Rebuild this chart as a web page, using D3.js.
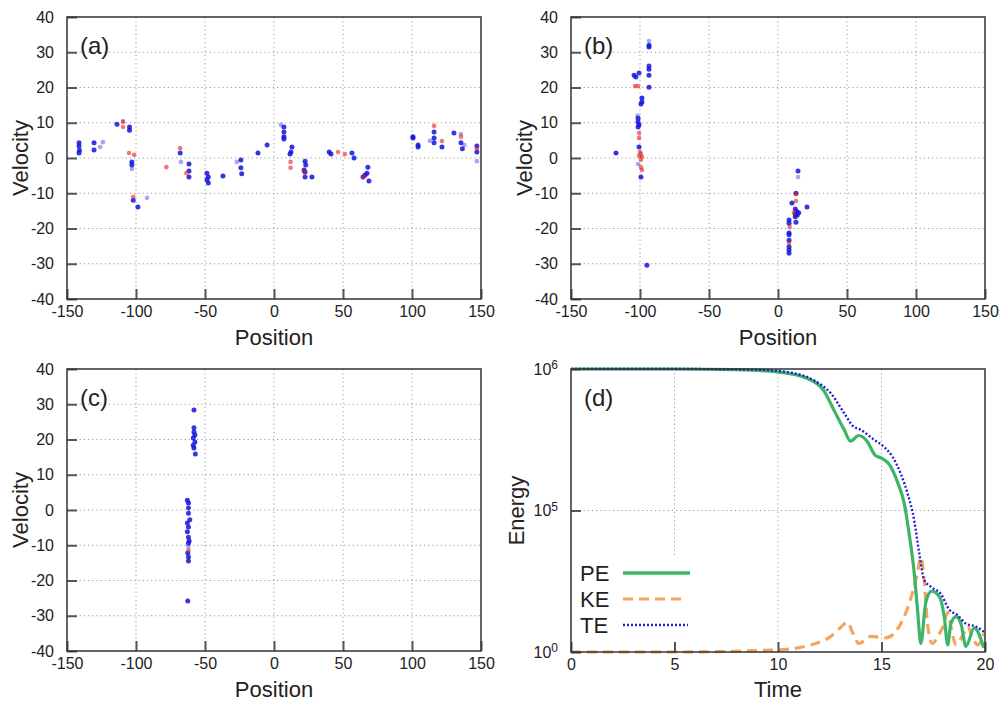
<!DOCTYPE html>
<html><head><meta charset="utf-8">
<script src="https://cdn.jsdelivr.net/npm/d3@7/dist/d3.min.js"></script>
<style>
html,body{margin:0;padding:0;background:#fff;}
text{font-family:"Liberation Sans",Arial,sans-serif;fill:#222;}
</style></head>
<body>
<svg id="chart" width="1002" height="704"></svg>
<script>
// ---------------- DATA ----------------
const posTicks = [-150,-100,-50,0,50,100,150];
const velTicks = [-40,-30,-20,-10,0,10,20,30,40];
const timeTicks = [0,5,10,15,20];
const energyTickVals = [1e4,1e5,1e6];
const energyTickExps = ["0","5","6"];

// panel (a): [position, velocity]
const aBlue = [[-141.3,4.3],[-141.3,3.4],[-141.3,1.4],[-141,2.2],[-130.4,4.3],[-130.4,2.3],[-113.8,9.6],[-104.7,8.8],[-104.7,7.9],[-103,-1.1],[-103,-2],[-102,-12],[-98.6,-13.9],[-68,1.4],[-61.6,-1.7],[-61.6,-3.7],[-61.6,-5.4],[-48.6,-4.3],[-47.6,-5.4],[-48.6,-6.2],[-47.6,-7.1],[-37,-5.1],[-24,-0.6],[-24,-2.8],[-23.4,-4.5],[-11.6,1.4],[-5,3.7],[7.2,8.8],[7.2,7.4],[7.2,6],[7.2,5.4],[13,3.1],[12.3,1.7],[11.6,1.1],[22.5,-0.9],[23,-2],[21.8,-3.4],[22.5,-4],[22.5,-5.4],[27.5,-5.4],[40,1.7],[41.3,1.1],[56.5,1.4],[58,0],[66,-4.8],[67.4,-4.3],[68,-2.6],[64.5,-5.4],[68.8,-6.5],[100.7,6],[100.7,5.7],[104.4,3.7],[104.4,3.1],[116,7.4],[116,5.7],[116,4.3],[121.7,3.1],[130.4,7.1],[135.5,4.3],[136.5,2.6],[147,3.4],[147,1.7]];
const aFaint = [[-126,3.1],[-124,4.5],[-103,-3.1],[-92,-11.3],[-67.4,-1.1],[-27,-1.1],[5,9.4],[135.5,6.8],[138,3.7],[147,-0.9],[-109.4,10.5],[113,4.9]];
const aRed = [[-109.4,10.2],[-109.4,8.8],[-105,1.4],[-101.4,0.9],[-102,-11],[-78,-2.6],[-68,2.8],[-63.5,-4.3],[12,-1.1],[12,-2.8],[21.8,-3.8],[46.4,1.7],[51.4,1.1],[65,-5.2],[116,9.1],[121.7,4.8],[135.5,6],[147,2.6]];

// panel (b)
const bBlue = [[-93.5,32],[-93.5,31.5],[-93.5,26.1],[-93.5,25.2],[-93.5,23.5],[-104.3,23.5],[-103,23],[-100.7,24.1],[-93.5,20.1],[-98.6,17],[-98.6,15.9],[-99.3,15.3],[-101.4,11.3],[-101.4,10.2],[-101.4,8.8],[-100.7,9.4],[-100.7,3.1],[-117.4,1.4],[-99.3,-5.4],[-95,-30.4],[14.5,-3.7],[13,-10],[10.1,-12.8],[12.5,-14.5],[13.5,-15.2],[12.5,-15.9],[14,-16.2],[12.5,-16.7],[15,-15.5],[21,-13.9],[13,-18.2],[8,-17.6],[8,-18.5],[8,-21.3],[8,-21.8],[8,-23.3],[8,-25.2],[8,-26.1],[8,-27]];
const bFaint = [[-93.5,33.2],[-101.4,-1.7],[14.5,-5.4],[-101.8,12]];
const bRed = [[-103.6,20.4],[-101.4,20.4],[-100.7,7.1],[-100.7,5.7],[-100,1.7],[-99.3,1.1],[-100.7,0.6],[-98.6,0.3],[-99.3,-2.6],[-98.6,-3.4],[-99.3,-0.5],[13,-10.2],[13,-12.2],[8.5,-19.6],[8,-24.1],[11.5,-15.5]];

// panel (c)
const cBlue = [[-58,28.4],[-58,23.3],[-58,22.1],[-57.3,21.3],[-58.5,20.4],[-57.3,19.3],[-58.5,18.4],[-58,17.6],[-57,15.9],[-62.8,2.8],[-62,2],[-62,0.6],[-62,-0.9],[-61,-2.8],[-62.8,-3.7],[-62,-4.8],[-62.8,-6.2],[-62,-7.7],[-61.5,-8.8],[-62,-9.4],[-62.5,-12.2],[-62,-13.3],[-62,-14.5],[-62.5,-25.8]];
const cFaint = [[-62,-10.5]];
const cRed = [[-62,-11.5]];

// panel (d): [time, log10(energy)]
const peSeries = [[0,6],[5,6],[8,5.995],[9.96,5.98],[11.4,5.934],[12.2,5.85],[12.7,5.71],[13.2,5.57],[13.5,5.49],[13.9,5.53],[14.3,5.49],[14.7,5.39],[15.0,5.37],[15.4,5.32],[15.8,5.19],[16.1,5.05],[16.33,4.84],[16.58,4.56],[16.74,4.30],[16.9,4.06],[17.14,4.35],[17.42,4.43],[17.8,4.39],[18.03,4.25],[18.2,4.05],[18.35,4.20],[18.6,4.25],[18.84,4.20],[19.08,4.04],[19.48,4.17],[19.94,4.03]];
const keSeries = [[0,4.0],[5,4.0],[9.96,4.015],[11.57,4.05],[12.54,4.11],[13.0,4.17],[13.35,4.21],[13.6,4.14],[13.91,4.06],[14.48,4.11],[15.2,4.10],[15.93,4.20],[16.4,4.37],[16.74,4.56],[16.9,4.67],[17.06,4.51],[17.22,4.20],[17.46,4.06],[17.71,4.11],[18.03,4.20],[18.19,4.28],[18.35,4.18],[18.6,4.05],[19.0,4.14],[19.16,4.18],[19.4,4.10],[19.65,4.05],[19.94,4.13]];
const teSeries = [[0,6],[5,6],[9,5.995],[10.77,5.97],[11.73,5.92],[12.54,5.83],[13.19,5.69],[13.6,5.60],[14.0,5.57],[14.64,5.50],[15.12,5.45],[15.53,5.38],[15.93,5.26],[16.26,5.12],[16.58,4.93],[16.82,4.70],[17.06,4.51],[17.39,4.46],[17.87,4.41],[18.27,4.30],[18.68,4.26],[19.08,4.20],[19.56,4.18],[19.97,4.14]];
const legendNames = ["PE","KE","TE"];

// ---------------- DRAW ----------------
const svg = d3.select("#chart");
const BLUE = "#1414dc", RED = "#e41e1e";
const GREEN = "#3cb46a", ORANGE = "#f4a45e", TEBLUE = "#2020d2";
const plainFmt = d => String(d);

function frame(box, x, y, xTickVals, yTickVals) {
  const g = svg.append("g");
  g.selectAll(".gx").data(xTickVals.filter(v => x(v) > box.x0 + 1 && x(v) < box.x1 - 1)).join("line")
    .attr("x1", d => x(d)).attr("x2", d => x(d)).attr("y1", box.y0).attr("y2", box.y1)
    .attr("stroke", "#9a9a9a").attr("stroke-width", 1).attr("stroke-dasharray", "1.2,3");
  g.selectAll(".gy").data(yTickVals.filter(v => y(v) > box.y0 + 1 && y(v) < box.y1 - 1)).join("line")
    .attr("y1", d => y(d)).attr("y2", d => y(d)).attr("x1", box.x0).attr("x2", box.x1)
    .attr("stroke", "#9a9a9a").attr("stroke-width", 1).attr("stroke-dasharray", "1.2,3");
  return g;
}

function axes(box, x, y, xTickVals, yTickVals, yFmt, xTitle, yTitle, tag, titleY, yTitleX) {
  const g = svg.append("g");
  const ax = g.append("g").attr("transform", `translate(0,${box.y1})`)
    .call(d3.axisBottom(x).tickValues(xTickVals).tickSizeInner(-10).tickSizeOuter(0).tickPadding(7).tickFormat(plainFmt));
  ax.select(".domain").remove();
  ax.selectAll("line").attr("stroke", "#555").attr("stroke-width", 2);
  ax.selectAll("text").attr("font-size", 16).attr("fill", "#222").style("font-family", "Liberation Sans, Arial, sans-serif");
  const ay = g.append("g").attr("transform", `translate(${box.x0},0)`)
    .call(d3.axisLeft(y).tickValues(yTickVals).tickSizeInner(-10).tickSizeOuter(0).tickPadding(13).tickFormat(yFmt || plainFmt));
  ay.select(".domain").remove();
  ay.selectAll("line").attr("stroke", "#555").attr("stroke-width", 2);
  ay.selectAll("text").attr("font-size", 16).attr("fill", "#222").style("font-family", "Liberation Sans, Arial, sans-serif");
  g.append("rect").attr("x", box.x0).attr("y", box.y0).attr("width", box.x1 - box.x0).attr("height", box.y1 - box.y0)
    .attr("fill", "none").attr("stroke", "#333").attr("stroke-width", 1.5);
  g.append("text").attr("x", (box.x0 + box.x1) / 2).attr("y", titleY).attr("text-anchor", "middle")
    .attr("font-size", 22).text(xTitle);
  g.append("text").attr("transform", `translate(${yTitleX},${(box.y0 + box.y1) / 2}) rotate(-90)`)
    .attr("text-anchor", "middle").attr("font-size", 22).text(yTitle);
  g.append("text").attr("x", box.x0 + 13).attr("y", box.y0 + 37).attr("font-size", 24).text(tag);
  return {ax, ay};
}

function scatterPanel(box, blue, faint, red, tag) {
  const x = d3.scaleLinear().domain([-150, 150]).range([box.x0, box.x1]);
  const y = d3.scaleLinear().domain([-40, 40]).range([box.y1, box.y0]);
  frame(box, x, y, posTicks, velTicks);
  const g = svg.append("g");
  g.selectAll(".f").data(faint).join("circle").attr("cx", d => x(d[0])).attr("cy", d => y(d[1]))
    .attr("r", 2.3).attr("fill", BLUE).attr("opacity", 0.38);
  g.selectAll(".b").data(blue).join("circle").attr("cx", d => x(d[0])).attr("cy", d => y(d[1]))
    .attr("r", 2.5).attr("fill", BLUE).attr("opacity", 0.85);
  g.selectAll(".r").data(red).join("circle").attr("cx", d => x(d[0])).attr("cy", d => y(d[1]))
    .attr("r", 2.3).attr("fill", RED).attr("opacity", 0.6);
  axes(box, x, y, posTicks, velTicks, null, "Position", "Velocity", tag, box.y1 + 46, box.x0 - 39);
}

scatterPanel({x0: 67, x1: 481, y0: 17, y1: 299}, aBlue, aFaint, aRed, "(a)");
scatterPanel({x0: 571, x1: 985, y0: 17, y1: 299}, bBlue, bFaint, bRed, "(b)");
scatterPanel({x0: 67, x1: 481, y0: 369, y1: 651}, cBlue, cFaint, cRed, "(c)");

// panel (d)
const dBox = {x0: 571, x1: 985, y0: 369, y1: 652};
const xt = d3.scaleLinear().domain([0, 20]).range([dBox.x0, dBox.x1]);
const ye = d3.scaleLog().domain([1e4, 1e6]).range([dBox.y1, dBox.y0]);
frame(dBox, xt, ye, timeTicks, energyTickVals);

// legend background
svg.append("rect").attr("x", dBox.x0 + 2).attr("y", 557).attr("width", 128).attr("height", dBox.y1 - 557 - 2).attr("fill", "#fff");

svg.append("clipPath").attr("id", "dclip").append("rect")
  .attr("x", dBox.x0).attr("y", dBox.y0 - 2).attr("width", dBox.x1 - dBox.x0).attr("height", dBox.y1 - dBox.y0 + 4);
const line = d3.line().x(d => xt(d[0])).y(d => ye(Math.pow(10, d[1]))).curve(d3.curveMonotoneX);
const lg = svg.append("g").attr("clip-path", "url(#dclip)");
lg.append("path").datum(keSeries).attr("d", line).attr("fill", "none").attr("stroke", ORANGE)
  .attr("stroke-width", 3.2).attr("stroke-dasharray", "10,6");
lg.append("path").datum(peSeries).attr("d", line).attr("fill", "none").attr("stroke", GREEN)
  .attr("stroke-width", 3.2);
lg.append("path").datum(teSeries).attr("d", line).attr("fill", "none").attr("stroke", TEBLUE)
  .attr("stroke-width", 2.4).attr("stroke-dasharray", "2,2");

const dAx = axes(dBox, xt, ye, timeTicks, energyTickVals, () => "", "Time", "Energy", "(d)", 697, 524);
dAx.ay.selectAll(".tick text").each(function(d, i) {
  const t = d3.select(this);
  t.text(null);
  t.append("tspan").text("10");
  t.append("tspan").attr("dy", "-0.45em").attr("font-size", 12).text(energyTickExps[i]);
});

// legend
const legStyles = [
  {c: GREEN, w: 3.6, dash: null, x2: 690},
  {c: ORANGE, w: 3.2, dash: "10,6", x2: 683},
  {c: TEBLUE, w: 2.6, dash: "2,2", x2: 688}
];
legendNames.forEach((n, i) => {
  const by = 581 + i * 26;
  svg.append("text").attr("x", 580).attr("y", by).attr("font-size", 22).text(n);
  svg.append("line").attr("x1", 623).attr("x2", legStyles[i].x2).attr("y1", by - 8).attr("y2", by - 8)
    .attr("stroke", legStyles[i].c).attr("stroke-width", legStyles[i].w)
    .attr("stroke-dasharray", legStyles[i].dash);
});
</script>
</body></html>
